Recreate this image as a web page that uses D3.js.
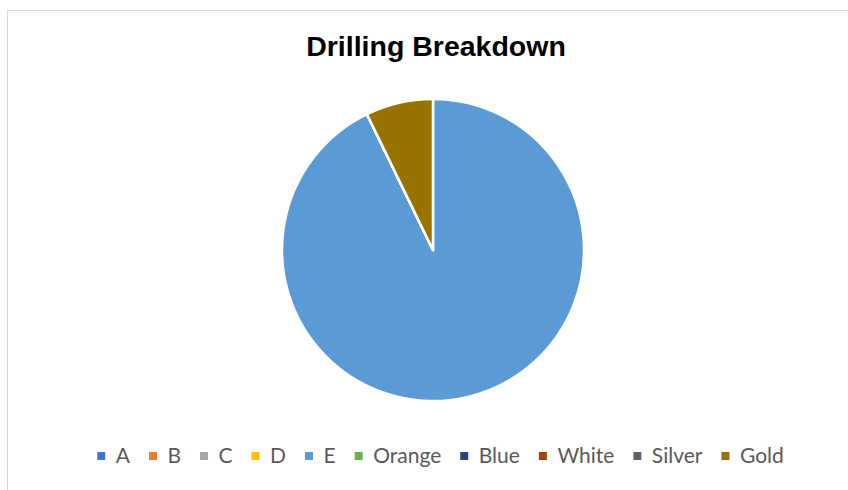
<!DOCTYPE html>
<html>
<head>
<meta charset="utf-8">
<script src="https://cdn.jsdelivr.net/npm/d3@7"></script>
<style>
  html, body { margin: 0; padding: 0; background: #fff; }
  svg { display: block; }
</style>
</head>
<body>
<svg id="chart" width="848" height="490"></svg>
<script>
// Drilling breakdown by category
const categories = ["A", "B", "C", "D", "E", "Orange", "Blue", "White", "Silver", "Gold"];
const values     = [0, 0, 0, 0, 92.8, 0, 0, 0, 0, 7.2];
const colors     = ["#4472C4", "#ED7D31", "#A5A5A5", "#FFC000", "#5B9BD5",
                    "#70AD47", "#264478", "#9E480E", "#636363", "#997300"];
const title = "Drilling Breakdown";

const svg = d3.select("#chart");

// chart frame
svg.append("rect")
  .attr("x", 7.5).attr("y", 10.5)
  .attr("width", 860).attr("height", 500)
  .attr("fill", "#fff")
  .attr("stroke", "#d9d9d9")
  .attr("stroke-width", 1);

svg.append("text")
  .attr("x", 436).attr("y", 56)
  .attr("text-anchor", "middle")
  .attr("font-family", "Liberation Sans, Arial, sans-serif")
  .attr("font-weight", "bold")
  .attr("font-size", 28.5)
  .attr("fill", "#000")
  .text(title);

const data = categories.map((c, i) => ({ name: c, value: values[i], color: colors[i] }));

const cx = 433, cy = 250, radius = 151;
const pie = d3.pie().sort(null).value(d => d.value);
const arc = d3.arc().innerRadius(0).outerRadius(radius);

svg.append("g")
  .attr("transform", `translate(${cx},${cy})`)
  .selectAll("path")
  .data(pie(data))
  .join("path")
  .attr("d", arc)
  .attr("fill", d => d.data.color)
  .attr("stroke", "#fff")
  .attr("stroke-width", 2.5)
  .attr("stroke-linejoin", "round");

// legend, laid out from measured label widths and centred
const legend = svg.append("g");
const items = legend.selectAll("g").data(data).join("g");
items.append("rect")
  .attr("width", 8).attr("height", 8)
  .attr("y", -4)
  .attr("fill", d => d.color);
items.append("text")
  .attr("x", 18.5)
  .attr("dy", "0.35em")
  .attr("font-family", "Lato, Calibri, sans-serif")
  .attr("font-size", 21)
  .attr("fill", "#595959")
  .text(d => d.name);

const gap = 19;
let xPos = 0;
items.each(function () {
  const w = d3.select(this).select("text").node().getComputedTextLength();
  d3.select(this).attr("transform", `translate(${xPos},0)`);
  xPos += 18.5 + w + gap;
});
const total = xPos - gap;
legend.attr("transform", `translate(${440.5 - total / 2},456)`);
</script>
</body>
</html>
